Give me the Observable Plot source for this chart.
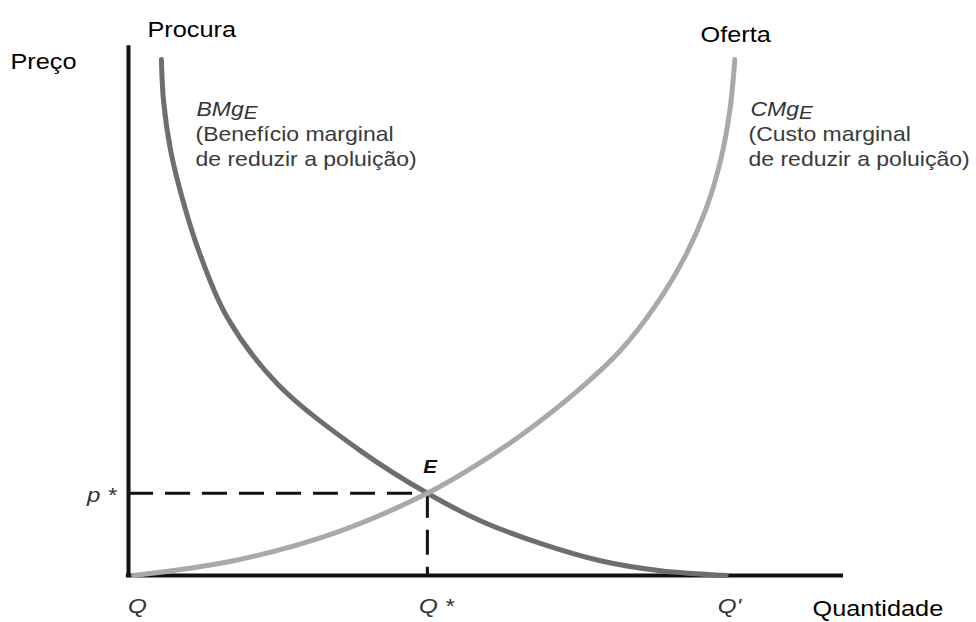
<!DOCTYPE html>
<html>
<head>
<meta charset="utf-8">
<script src="https://cdn.jsdelivr.net/npm/d3@7"></script>
<script src="https://cdn.jsdelivr.net/npm/@observablehq/plot@0.6"></script>
<style>
  html, body { margin: 0; padding: 0; background: #fff; }
  #chart { width: 976px; height: 622px; }
</style>
</head>
<body>
<div id="chart"></div>
<script>
// Demand curve (BMgE) — quantity, price (0–100 units)
const demandQ = [4.6, 4.9, 5.9, 7.6, 9.8, 13.8, 20.8, 32.4, 41.8, 49.2, 57.6, 66.0, 74.4, 83.6];
const demandP = [97.9, 90.1, 80.6, 71.2, 61.7, 49.0, 36.4, 23.7, 15.6, 10.4, 6.1, 2.8, 0.9, 0.0];
// Supply curve (CMgE)
const supplyQ = [0.7, 14.7, 28.7, 41.8, 49.2, 56.2, 63.2, 68.8, 73.7, 77.9, 80.7, 82.8, 84.1, 84.8];
const supplyP = [0.0, 2.8, 8.0, 15.6, 21.4, 27.9, 35.5, 42.7, 51.2, 60.7, 69.3, 78.7, 88.2, 97.9];
// Equilibrium
const eqQ = 41.8;
const eqP = 15.6;
// Tick labels
const qTickValues = [0, 41.8, 82.8];
const qTickLabels = ["Q", "Q *", "Q'"];
const pTickValues = [15.6];
const pTickLabels = ["p *"];
// Curve annotations (name with subscript E, description)
const curveNames = ["BMgE", "CMgE"];
const curveDescriptions = ["(Benefício marginal\nde reduzir a poluição)", "(Custo marginal\nde reduzir a poluição)"];

const demand = demandQ.map((q, i) => ({q, p: demandP[i]}));
const supply = supplyQ.map((q, i) => ({q, p: supplyP[i]}));
const qTicks = qTickValues.map((v, i) => ({v, label: qTickLabels[i]}));
const pTicks = pTickValues.map((v, i) => ({v, label: pTickLabels[i]}));

const font = "'Liberation Sans', Arial, Helvetica, sans-serif";

const svg = Plot.plot({
  width: 976,
  height: 622,
  marginLeft: 128,
  marginRight: 133,
  marginTop: 48,
  marginBottom: 47,
  x: {domain: [0, 100], axis: null},
  y: {domain: [0, 100], axis: null},
  style: {fontFamily: font, background: "#fff", overflow: "visible"},
  marks: [
    // dashed guides
    Plot.ruleY([eqP], {x1: 0, x2: eqQ, stroke: "#111", strokeWidth: 3, strokeDasharray: "25 12"}),
    Plot.ruleX([eqQ], {y1: eqP, y2: 0, stroke: "#111", strokeWidth: 3, strokeDasharray: "25 12"}),
    // axes
    Plot.ruleX([0], {y1: 0, y2: 100.5, stroke: "#111", strokeWidth: 4}),
    Plot.ruleY([0], {x1: -0.3, x2: 100, stroke: "#111", strokeWidth: 4}),
    // curves
    Plot.line(demand, {x: "q", y: "p", curve: "catmull-rom", stroke: "#6e6e6f", strokeWidth: 5}),
    Plot.line(supply, {x: "q", y: "p", curve: "catmull-rom", stroke: "#a8a9ac", strokeWidth: 5}),
    // tick labels
    Plot.text(qTicks, {x: "v", y: 0, text: "label", textAnchor: "middle", lineAnchor: "bottom", dx: 9, dy: 37,
      fontSize: 21, fontStyle: "italic", fill: "#333"}),
    Plot.text(pTicks, {x: 0, y: "v", text: "label", textAnchor: "end", lineAnchor: "bottom", dx: -12, dy: 9,
      fontSize: 21, fontStyle: "italic", fill: "#333"}),
    // E label
    Plot.text(["E"], {x: eqQ, y: eqP, textAnchor: "start", lineAnchor: "bottom", dx: -4, dy: -20,
      fontSize: 18, fontStyle: "italic", fontWeight: "bold", fill: "#111"}),
    // axis titles and curve names
    Plot.text(["Preço"], {frameAnchor: "top-left", textAnchor: "start", lineAnchor: "bottom", dx: -118, dy: 20, fontSize: 22, fill: "#000"}),
    Plot.text(["Procura"], {frameAnchor: "top-left", textAnchor: "start", lineAnchor: "bottom", dx: 19, dy: -12, fontSize: 22, fill: "#000"}),
    Plot.text(["Oferta"], {frameAnchor: "top-left", textAnchor: "start", lineAnchor: "bottom", dx: 572, dy: -7, fontSize: 22, fill: "#000"}),
    Plot.text(["Quantidade"], {frameAnchor: "bottom-left", textAnchor: "start", lineAnchor: "bottom", dx: 684, dy: 40, fontSize: 22, fill: "#000"}),
    // BMgE annotation
    Plot.text([curveNames[0]], {frameAnchor: "top-left", textAnchor: "start", lineAnchor: "bottom", dx: 68, dy: 67, fontSize: 20, fontStyle: "italic", fill: "#333"}),
    Plot.text([curveDescriptions[0]], {frameAnchor: "top-left", textAnchor: "start", lineAnchor: "bottom", dx: 67, dy: 117, lineHeight: 1.22, fontSize: 20, fill: "#3a3a3a"}),
    // CMgE annotation
    Plot.text([curveNames[1]], {frameAnchor: "top-left", textAnchor: "start", lineAnchor: "bottom", dx: 622, dy: 67, fontSize: 20, fontStyle: "italic", fill: "#333"}),
    Plot.text([curveDescriptions[1]], {frameAnchor: "top-left", textAnchor: "start", lineAnchor: "bottom", dx: 620, dy: 117, lineHeight: 1.22, fontSize: 20, fill: "#3a3a3a"})
  ]
});

// Subscript E in the curve names
svg.querySelectorAll("text").forEach(t => {
  const s = t.textContent;
  if (curveNames.includes(s) && t.children.length === 0) {
    t.textContent = s.slice(0, -1);
    const sub = document.createElementNS("http://www.w3.org/2000/svg", "tspan");
    sub.setAttribute("dy", "3");
    sub.setAttribute("font-size", "18");
    sub.textContent = s.slice(-1);
    t.appendChild(sub);
  }
});

// The source artwork is slightly stretched horizontally: widen the glyphs to match.
svg.querySelectorAll("text").forEach(t => {
  const tr = t.getAttribute("transform");
  if (tr) {
    t.setAttribute("transform", tr + " scale(1.15,1)");
  } else {
    const x = +t.getAttribute("x") || 0, y = +t.getAttribute("y") || 0;
    t.removeAttribute("x"); t.removeAttribute("y");
    t.setAttribute("transform", `translate(${x},${y}) scale(1.15,1)`);
  }
});

document.getElementById("chart").appendChild(svg);
</script>
</body>
</html>
